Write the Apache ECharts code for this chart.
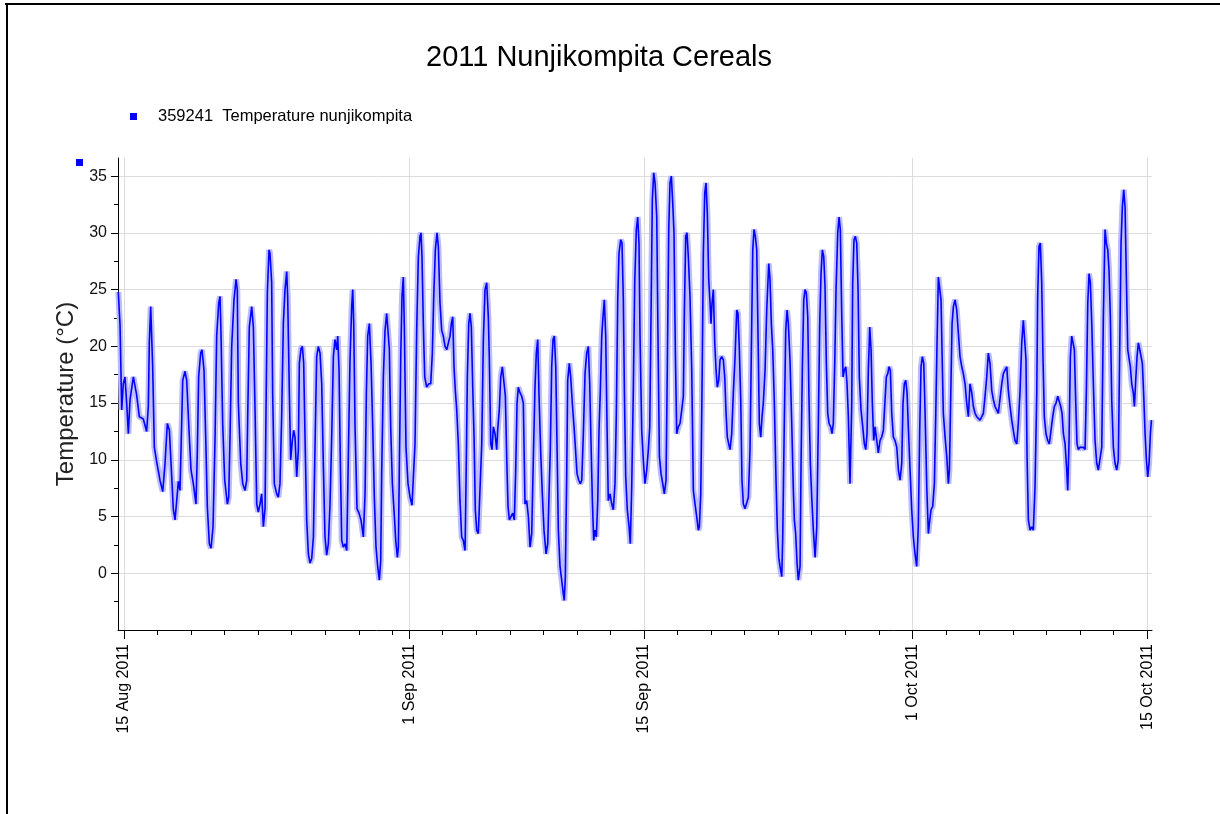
<!DOCTYPE html>
<html>
<head>
<meta charset="utf-8">
<title>2011 Nunjikompita Cereals</title>
<script src="https://cdn.jsdelivr.net/npm/echarts@6/dist/echarts.min.js"></script>
<style>
  html, body { margin: 0; padding: 0; background: #fff; }
  #chart { width: 1220px; height: 814px; }
</style>
</head>
<body>
<div id="chart"></div>
<script>
// readings: time in hours after 15 Aug 2011 00:00, temperature in °C
const hours = [
  -8.2, -5.7, -3.3, -1, 1.4, 3.8, 6.2, 8.6, 13.4, 18.1, 21.9, 27.6, 32.4, 34.8, 36.2, 38.2, 41, 43.4, 46.8, 51.5,
  55.4, 58.7, 62, 64.9, 67.3, 70.6, 73, 75.4, 77.8, 80.1, 81.6, 84, 87.3, 89.7, 93, 95.9, 99.2, 103, 104.9, 106.8,
  109.7, 111.6, 114.5, 116.9, 119.2, 122.1, 124.5, 127.4, 130.2, 132.6, 135.5, 137.4, 138.8, 141.2, 144.1, 147.9,
  149.8, 151.7, 154.1, 157.4, 160.3, 162.1, 163.6, 167, 169.9, 173.2, 175.6, 177, 179.3, 182.7, 185.1,
  187.5, 189.9, 192.2, 194.6, 197, 199.4, 201.8, 203.2, 205.1, 207.5, 208.9, 211.3, 212.7, 215.1, 218.5, 220.8,
  223.2, 225.6, 228, 230.4, 232.8, 234.2, 236.6, 238.5, 240.9, 242.8, 244.7, 247.1, 249.5, 250.9, 253.3, 255.2,
  257.1, 259, 261.4, 263.8, 266.2, 268.6, 271, 273.3, 275.7, 278.1, 280.5, 282.9, 285.3, 287.6, 290, 292.4, 294.8,
  297.2, 299.6, 301.9, 304.3, 305.8, 307.7, 309.6, 311.5, 313.9, 316.3, 318.7, 321, 323.4, 325.8, 327.3, 328.7,
  330.6, 333.4, 336.3, 339.1, 342.5, 344.9, 346.8, 348.7, 351.1, 353.5, 355.9, 358.2, 360.6, 363, 365.4, 367.3,
  368.8, 371.1, 373.5, 375.9,
  377.8, 379.7, 381.6, 384, 386.9, 388.8, 391.2, 392.6, 394, 396, 397.8, 399.7, 401.2, 403.5, 406.4, 409.3, 412.1,
  414, 416.4, 418.8, 421.2, 423.6, 425, 426.4, 428.3, 430.3, 433.1, 436, 438.9, 441.2, 443.2, 445.5, 447.9, 449.8,
  452.2, 454.6, 456.9, 459.4, 461.8, 464.1, 466.5, 468.4, 470.4, 472.2, 474.1, 476.1, 478.4, 480.8, 483.2, 485.5,
  488, 489.4, 491.3, 493.3, 495.1, 497, 499, 500.9, 502.7, 504.7, 507, 509.4, 511.9, 514.2, 516.6, 519, 521.3,
  522.7, 524.8, 526.6, 528.5, 530.9, 533.3, 534.7, 537, 539.1, 541.4, 543.8, 545.7, 547.7, 549.5, 551.4, 553.8,
  556.2, 558.5, 560.5, 562.4, 564.2, 566.7, 569.1, 571.4,
  573.8, 576.2, 578.6, 581, 583.4, 585.7, 588.1, 590, 592, 593.9, 596.3, 598.6, 601, 603.9, 606.3, 608.2, 610, 612,
  613.9, 615.8, 617.8, 619.6, 621.5, 623.9, 626.3, 628.6, 630, 631.5, 633.5, 634.9, 637.2, 639.2, 641.5, 644, 646.4,
  648.2, 650.7, 653, 655, 657.3, 659.7, 662.1, 664.4, 666.4, 668.3, 670.2, 672.1, 674, 675.9, 677.9, 679.7, 681.6,
  683.6, 685.4, 687.3, 689.3, 691.2, 693, 695.5, 697.9, 700.2, 702.6, 704.5, 706.5, 708.3, 710.8, 712.6, 714.5, 716,
  717.9, 720.2, 722.7, 724.5, 726.5, 728.8, 730.8, 733.1, 735.1, 736.9, 738.4, 740.8, 743.1, 745.5, 748, 750.3,
  752.3, 754.1, 756, 758, 759.9, 762.3, 764.2,
  766.1, 768.4, 770.9, 773.2, 775.6, 777.5, 779.5, 781.3, 783.2, 785.2, 787, 788.9, 790.9, 793.2, 795.6, 798.1,
  800.4, 801.8, 803.8, 805.6, 807.5, 809.9, 812.4, 814.7, 817.1, 819.5, 821.8, 823.3, 825.3, 827.1, 829, 831, 832.8,
  834.7, 836.7, 838.6, 840, 841.4, 843.3, 845.3, 847.2, 849, 851, 852.9, 855.3, 857.6, 859.6, 861.5, 863.3, 865.3,
  867.2, 869.6, 871.9, 874.4, 876.8, 878.6, 880.5, 882.5, 884.3, 886.2, 888.7, 891.1, 893.4, 895.8, 897.7, 899.7,
  901.5, 903.4, 905.4, 907.3, 909.1, 911.1, 913, 914.8, 917.3, 919.7, 922.6, 924.4, 926.3, 928.3, 930.6, 933.1,
  934.9, 936.9, 938.7, 941.2, 942.6, 944.9, 946.9, 948.8, 950.6, 953, 955.5, 957.8,
  959.2, 961.1, 963.1, 964.9, 967.4, 968.8, 970.7, 972.7, 974.5, 976.4, 978.4, 980.2, 982.1, 984.1, 986.4, 988.9,
  991.3, 993.5, 995.5, 997.4, 999.3, 1001.3, 1003.1, 1005, 1007, 1008.9, 1011.3, 1013.1, 1015, 1017, 1018.9, 1021.3,
  1023.2, 1025, 1027, 1028.9, 1030.8, 1032.8, 1034.6, 1036.5, 1038.9, 1041.3, 1042.7, 1044.6, 1046.5, 1048.5,
  1050.4, 1052.2, 1054.6, 1057.1, 1059.4, 1061.4, 1063.2, 1065.1, 1067.1, 1069, 1070.8, 1072.8, 1074.7, 1077.1,
  1079.4, 1081.8, 1084.2, 1086.6, 1089, 1090.9, 1092.9, 1094.7, 1096.6, 1098.6, 1100.9, 1103.3, 1105.8, 1108.1,
  1110.5, 1112.9, 1114.7, 1116.6, 1118.6, 1120.5, 1122.3, 1124.8, 1127.2, 1129.5, 1131.9, 1134.3, 1136.6, 1138.6,
  1140.5, 1142.4, 1144.4, 1146.2, 1148.7, 1151,
  1152.5, 1154.8, 1157.2, 1159.6, 1161.5, 1163.4, 1165.3, 1167.7, 1169.1, 1171, 1172.4, 1174.9, 1177.3, 1179.6,
  1181.1, 1183, 1184.9, 1186.8, 1189.2, 1191.6, 1193.9, 1196.3, 1198.8, 1201, 1203.5, 1205.9, 1208.2, 1210.6,
  1213.1, 1215.4, 1217.8, 1220.2, 1222.5, 1224.9, 1227.4, 1229.7, 1232.1, 1234.5, 1236.8, 1239.2, 1241.7, 1244,
  1246.4, 1248.8, 1251.1, 1253.6, 1256, 1258.3, 1260.7, 1263.2, 1265.4, 1267.9, 1270.3, 1272.6, 1275, 1277.5,
  1279.7, 1282.2, 1284.6, 1286.9, 1289.3, 1290.7, 1292.2, 1294.1, 1296.5, 1298.9, 1301.2, 1303.6, 1306.1, 1307.4,
  1309.3, 1311.2, 1313.2, 1315, 1316.9, 1319.3, 1321.8, 1324.1, 1326.5, 1329, 1331.3, 1333.7, 1336.1, 1338.4,
  1340.4, 1342.3, 1344.2,
  1346.6, 1349, 1350.4, 1352.3, 1354.2, 1356.1, 1358, 1359.9, 1361.9, 1363.7, 1365.6, 1368, 1370.5, 1372.8, 1375.2,
  1377.1, 1379.1, 1380.9, 1382.8, 1384.8, 1387.1, 1389.5, 1391.9, 1394.2, 1396.7, 1399.1, 1401.4, 1403.8, 1405.7,
  1407.7, 1409.5, 1411.4, 1413.4, 1415.7, 1418.1, 1420.5, 1422.8, 1424.8, 1426.7, 1428.6, 1430.6, 1432.4, 1434.3,
  1436.3, 1438.1, 1440, 1442, 1444.3, 1445.8, 1447.7, 1449.6, 1451.5, 1453.5, 1455.3, 1457.2, 1459.2, 1461.1, 1463,
  1464.9, 1466.8, 1468.7, 1470.2
];

const temps = [
  24.8, 21.9, 14.4, 16.7, 17.3, 15, 12.3, 15.3, 17.3, 15.7, 13.8, 13.6, 12.5, 14.7, 20.3, 23.5, 18.2, 11.1, 9.8, 8.2,
  7.2, 9.7, 13.2, 12.6, 9.7, 5.6, 4.7, 6.4, 8.1, 7.3, 10.9, 17, 17.8, 17, 12.6, 9.1, 7.9, 6.1, 10.7, 17.3,
  19.4, 19.7, 17.9, 12, 5.9, 2.6, 2.2, 4.1, 11.7, 20.9, 23.8, 24.4, 21.1, 13.2, 8.2, 6.1,
  6.7, 12, 20, 24.1, 25.9, 25, 15, 9.7, 7.9, 7.3, 8.2, 13.8, 21.7, 23.5, 21.7,
  14.4, 6.1, 5.4, 6.1, 7, 4.1, 5.7, 14.4, 24.7, 28.5, 28.2, 25.6, 15.9, 7.9, 7, 6.7,
  7.9, 13.8, 22, 25, 26.6, 24.4, 15.9, 10, 11.7, 12.6, 12, 8.5, 10.9, 18.5, 19.8, 20,
  18.5, 12, 4.7, 1.7, 0.9, 1.3, 3.2, 11.1, 19.1, 20, 19.4, 16.7, 9.4, 3.2, 1.6, 2.6, 6.1,
  12, 19.1, 20.6, 19.7, 20.9, 17.9, 9.7, 2.9, 2.3, 2.6, 2, 10.3, 18.8, 23.5, 25, 22,
  12.9, 5.7, 5.3, 4.7, 3.2, 7, 15.9, 20.9, 22, 18.5, 12.9, 6.7, 2.3, 0.6, -0.6, 1.1,
  9.1, 17.3, 21.4, 22.9,
  22.9, 19.7, 12.9, 7.9, 5, 2.9, 1.4, 2.3, 9.4, 19.1, 24.4, 26.1, 21.4, 11.1, 7.9, 6.7, 6,
  6.1, 11.4, 21.4, 27.9, 29.7, 30, 27.9, 22, 17.3, 16.4, 16.7, 16.7, 19.4, 24.4, 28.5, 30, 28.8,
  23.8, 21.4, 20.9, 20, 19.7, 19.7, 20.9, 22, 22.6, 18.2, 16.1, 14.4, 11.4, 6.4, 3.2, 2.9,
  2, 7.9, 17.3, 22, 22.9, 21.7, 16.4, 12, 5.6, 3.8, 3.5, 3.5, 11.4, 20.6, 25, 25.6, 22.6,
  19.1, 11.4, 10.9, 12.9, 12.3, 10.9, 12.6, 14.4, 17.3, 18.2, 18.2, 15.6, 10, 5.9, 4.7, 5,
  5.3, 4.7, 9.1, 15, 16.4, 15.9, 15.6, 15,
  6.1, 6.4, 5, 2.3, 3.5, 10, 16.4, 19.4, 20.6, 15.6, 10.6, 7, 3.8, 1.7, 2.6, 7, 10.9, 18.2,
  20.6, 20.9, 18.2, 11.4, 3.8, 0.6, -0.6, -1.8, -2.4, -0.3, 8.8, 17, 18.5, 17.3, 15, 12.9, 10.6,
  8.8, 8.2, 7.9, 8.2, 12.3, 17.6, 19.4, 20, 16.7, 11.4, 6.4, 2.9, 3.8, 3.2, 6.4, 12.6, 16.1,
  20.9, 22.6, 24.1, 20.9, 12.9, 6.4, 7, 6.1, 5.6, 7.9, 14.1, 24.1, 28.2, 29.4, 29.1, 24.1, 16.1,
  8.5, 5.6, 4.1, 2.6, 7.6, 16.1, 25.6, 30.3, 31.4, 29.1, 20.9, 12.6, 10, 7.9, 9.1, 10.9,
  12.9, 22.6, 32.9, 35.3, 34.4, 31.4, 20.3,
  10.3, 8.8, 7.9, 7, 8.2, 18.5, 30.3, 34.4, 35, 32.6, 30, 19.7, 12.3, 12.9, 13.2, 14.4,
  15.6, 22.9, 29.7, 30, 27.9, 24.4, 17.9, 7.3, 6.1, 5, 3.8, 4.1, 7, 16.1, 28.2, 33.5, 34.4,
  31.7, 25.9, 23.8, 22, 23.8, 25, 20.3, 17.9, 16.4, 17, 18.8, 19.1, 18.8, 17.3, 14.1, 12, 11.4,
  10.9, 12.3, 15.9, 19.1, 23.2, 22.9, 19.7, 15.3, 8.2, 6.1, 5.7, 5.7, 6.7, 10.9, 19.7, 28.5,
  30.3, 29.7, 28.5, 20.9, 13.2, 12, 13.8, 15, 17.9, 23.2, 27.3, 25.9, 22, 19.7, 15, 7.9,
  3.8, 1.4, 0.6, -0.3, 3.2, 13.5, 21.4, 23.2, 22, 18.8, 13.2, 7.3,
  4.7, 3.5, 0.9, -0.6, 0.6, 9.7, 18.2, 24.1, 25, 24.7, 22.6, 15.3, 9.7, 6.7, 3.8, 1.4,
  4.1, 12.9, 22, 26.4, 28.5, 27.9, 25.3, 18.5, 14.1, 13.2, 12.9, 12.3, 13.2, 18.5, 25, 30,
  31.4, 30.3, 22.9, 17.3, 17.9, 18.2, 16.7, 13.8, 7.9, 14.7, 25.6, 29.4, 29.7, 29.1,
  25, 17.3, 14.4, 12.9, 11.4, 10.9, 12.3, 17.9, 21.7, 19.7, 15, 11.7, 12.9, 11.7,
  10.6, 11.7, 12, 12.6, 15.3, 17.3, 17.6, 18.2, 17.9, 14.1, 12, 11.7, 11.1, 9.1,
  8.2, 9.7, 15, 16.7, 17, 15.9, 12.9, 9.1, 5.6, 3.2, 1.7, 0.6, 4.1, 12.6,
  18.2, 19.1, 18.5, 14.4, 7.6, 3.5,
  4.4, 5.6, 5.9, 7.9, 13.8, 20.3, 26.1, 26.1, 24.1, 18.2, 14.1, 12, 10.3, 7.9,
  9.1, 15.6, 22, 23.5, 24.1, 23.2, 23.2, 19.1, 18.2, 17.6, 16.7, 15, 13.8, 16.7,
  15.9, 14.7, 14.1, 13.8, 13.8, 13.5, 13.8, 14.1, 15.6, 17.3, 19.4, 18.5, 16.1, 15.3,
  14.7, 14.4, 14.1, 14.1, 16.7, 17.6, 17.9, 18.2, 16.1, 14.7, 13.5, 12.6, 11.7, 11.4,
  13.2, 16.1, 20.3, 22.3, 22.3, 18.8, 10.3, 4.7, 3.8, 4.1, 3.8, 7.6, 15.9, 24.4,
  28.8, 29.1, 25.6, 19.1, 13.8, 12.3, 11.7, 11.4, 12.6, 13.8, 14.7, 15, 15.6, 15.6,
  14.7, 14.1, 12.3,
  11.4, 9.1, 7.3, 11.7, 19.1, 20.9, 20.9, 19.7, 15, 11.4, 10.9, 11.1, 11.1, 11.1, 10.9,
  16.1, 23.8, 26.4, 25.6, 22, 16.7, 11.7, 9.7, 9.1, 9.1, 11.1, 22.6, 30.3, 29.1,
  28.5, 26.7, 22.6, 15.3, 11.1, 9.7, 9.1, 10, 19.7, 29.1, 32.3, 33.8, 32.3, 26.1,
  19.7, 19.7, 18.2, 16.7, 15.9, 14.7, 17, 19.1, 20.3, 19.7, 19.7, 18.5, 15.6, 12.3, 10,
  8.5, 9.7, 12.3, 13.5
];

// x axis ticks, in the same hours
const dateTickHours = [0, 408, 744, 1128, 1464];
const dateTickLabels = ['15 Aug 2011', '1 Sep 2011', '15 Sep 2011', '1 Oct 2011', '15 Oct 2011'];
const minorTickDays = [2, 4, 6, 8, 10, 12, 14, 16, 19, 21, 23, 25, 27, 29, 33, 35, 37, 39, 41, 43, 45, 49, 51, 53, 55, 57, 59];
const yTicks = [0, 5, 10, 15, 20, 25, 30, 35];
const yMinorTicks = [-2.5, 2.5, 7.5, 12.5, 17.5, 22.5, 27.5, 32.5];

const FONT = '"Liberation Sans", Arial, sans-serif';
const SERIES_NAME = '359241  Temperature nunjikompita';
const X_MIN = -8.6, X_MAX = 1471;
const Y_MIN = -5, Y_MAX = 36.6;

let points = hours.map((h, i) => [h, temps[i]]);
let minorTickHours = minorTickDays.map(d => d * 24);

let chart = echarts.init(document.getElementById('chart'));
chart.setOption({
  animation: false,
  backgroundColor: '#fff',
  title: {
    text: '2011 Nunjikompita Cereals',
    left: 421,
    top: 38,
    textStyle: { fontFamily: FONT, fontSize: 29, fontWeight: 'normal', color: '#000' }
  },
  legend: {
    data: [{ name: SERIES_NAME, icon: 'rect' }],
    left: 125,
    top: 103,
    itemWidth: 7,
    itemHeight: 7,
    selectedMode: false,
    textStyle: { fontFamily: FONT, fontSize: 16.5, color: '#000', padding: [0, 0, 0, 16] }
  },
  grid: { left: 118, right: 68, top: 158, bottom: 184, containLabel: false },
  xAxis: [{
    type: 'value', min: X_MIN, max: X_MAX, position: 'bottom',
    axisLine: { onZero: false, lineStyle: { color: '#000', width: 1 } },
    axisTick: { customValues: minorTickHours, length: 5, lineStyle: { color: '#000' } },
    axisLabel: {
      customValues: dateTickHours, rotate: 90, margin: 14,
      fontFamily: FONT, fontSize: 16, color: '#000',
      formatter: v => dateTickLabels[dateTickHours.indexOf(v)] || ''
    },
    splitLine: { show: false }
  }, {
    type: 'value', min: X_MIN, max: X_MAX, position: 'bottom',
    axisLine: { show: false, onZero: false },
    axisTick: { customValues: dateTickHours, length: 9, lineStyle: { color: '#000' } },
    axisLabel: { show: false },
    splitLine: { show: true, lineStyle: { color: '#dcdcdc', width: 1 } }
  }],
  yAxis: [{
    type: 'value', min: Y_MIN, max: Y_MAX, interval: 5, position: 'left',
    name: 'Temperature (°C)', nameLocation: 'middle', nameGap: 38,
    nameTextStyle: { fontFamily: FONT, fontSize: 24, color: '#222' },
    axisLine: { show: true, onZero: false, lineStyle: { color: '#000', width: 1 } },
    axisTick: { customValues: yTicks, length: 7, lineStyle: { color: '#000' } },
    axisLabel: { customValues: yTicks, margin: 11, fontFamily: FONT, fontSize: 16, color: '#111' },
    splitLine: { show: true, lineStyle: { color: '#dcdcdc', width: 1 } }
  }, {
    type: 'value', min: Y_MIN, max: Y_MAX, interval: 5, position: 'left',
    axisLine: { show: false, onZero: false },
    axisTick: { customValues: yMinorTicks, length: 4, lineStyle: { color: '#000' } },
    axisLabel: { show: false },
    splitLine: { show: false }
  }],
  series: [{
    name: 'spread',
    type: 'line',
    data: points,
    showSymbol: false,
    silent: true,
    lineStyle: { color: '#bcbcff', width: 6 },
    z: 1
  }, {
    name: SERIES_NAME,
    type: 'line',
    data: points,
    showSymbol: false,
    itemStyle: { color: '#0000ff' },
    lineStyle: { color: '#0000ff', width: 1.6 },
    z: 2
  }],
  graphic: [
    { type: 'line', shape: { x1: 5, y1: 4, x2: 1220, y2: 4 }, style: { stroke: '#000', lineWidth: 2 } },
    { type: 'line', shape: { x1: 7, y1: 4, x2: 7, y2: 814 }, style: { stroke: '#000', lineWidth: 2 } },
    { type: 'rect', shape: { x: 76, y: 159, width: 7, height: 7 }, style: { fill: '#0000ff' } }
  ]
});
</script>
</body>
</html>
